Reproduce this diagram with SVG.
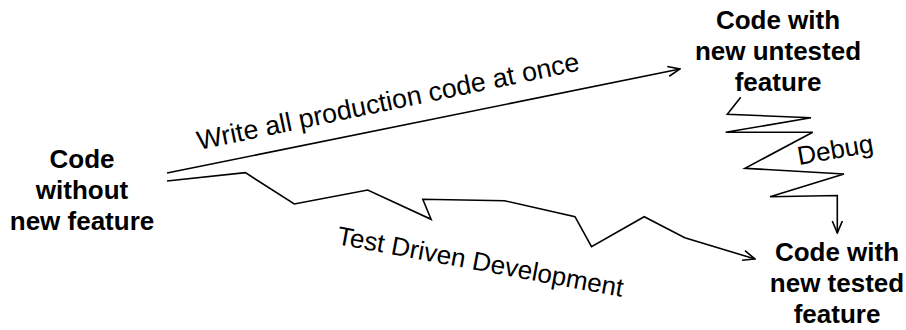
<svg xmlns="http://www.w3.org/2000/svg" width="906" height="330" viewBox="0 0 906 330">
<style>
.node{font-family:"Liberation Sans",Arial,Helvetica,sans-serif;font-weight:bold;font-size:26px;fill:#000;text-anchor:middle}
.lbl{font-family:"Liberation Sans",Arial,Helvetica,sans-serif;font-size:26px;fill:#000}
.edge{fill:none;stroke:#000;stroke-width:1.6;stroke-linejoin:miter}
</style>
<defs>
<marker id="arr" markerUnits="userSpaceOnUse" viewBox="0 0 14 12" refX="13" refY="6" markerWidth="14" markerHeight="12" orient="auto">
<path d="M1,1 L13,6 L1,11" fill="none" stroke="#000" stroke-width="1.6"/>
</marker>
</defs>
<rect width="906" height="330" fill="#fff"/>
<g id="connectors">
<g id="e-write">
<path class="edge" d="M167,173 L680,69" marker-end="url(#arr)"/>
<text class="lbl" style="font-size:26.8px" transform="translate(199,150) rotate(-11.8)">Write all production code at once</text>
</g>
<g id="e-tdd">
<path class="edge" d="M167,181 L245.4,172.7 L294.3,204 L367.7,190 L431.1,219.3 L422.8,199.3 L504.5,200.7 L575,216.7 L591.5,246.7 L644.2,216.7 L684.8,237.7 L755,259" marker-end="url(#arr)"/>
<text class="lbl" transform="translate(336,244) rotate(10.5)">Test Driven Development</text>
</g>
<g id="e-debug">
<path class="edge" d="M740.7,97.3 L727.3,114.3 L811,117.7 L725.7,132.3 L812.7,132.3 L745,168.3 L844,174 L770,196.7 L837.3,195.5 L837.3,233" marker-end="url(#arr)"/>
<text class="lbl" transform="translate(799,165) rotate(-10)">Debug</text>
</g>
</g>
<g id="n-start">
<text class="node" x="82" y="168">Code</text>
<text class="node" x="82" y="199">without</text>
<text class="node" x="82" y="230">new feature</text>
</g>
<g id="n-untested">
<text class="node" x="778" y="29">Code with</text>
<text class="node" x="778" y="60">new untested</text>
<text class="node" x="778" y="91">feature</text>
</g>
<g id="n-tested">
<text class="node" x="837" y="261">Code with</text>
<text class="node" x="837" y="292">new tested</text>
<text class="node" x="837" y="323">feature</text>
</g>
</svg>
